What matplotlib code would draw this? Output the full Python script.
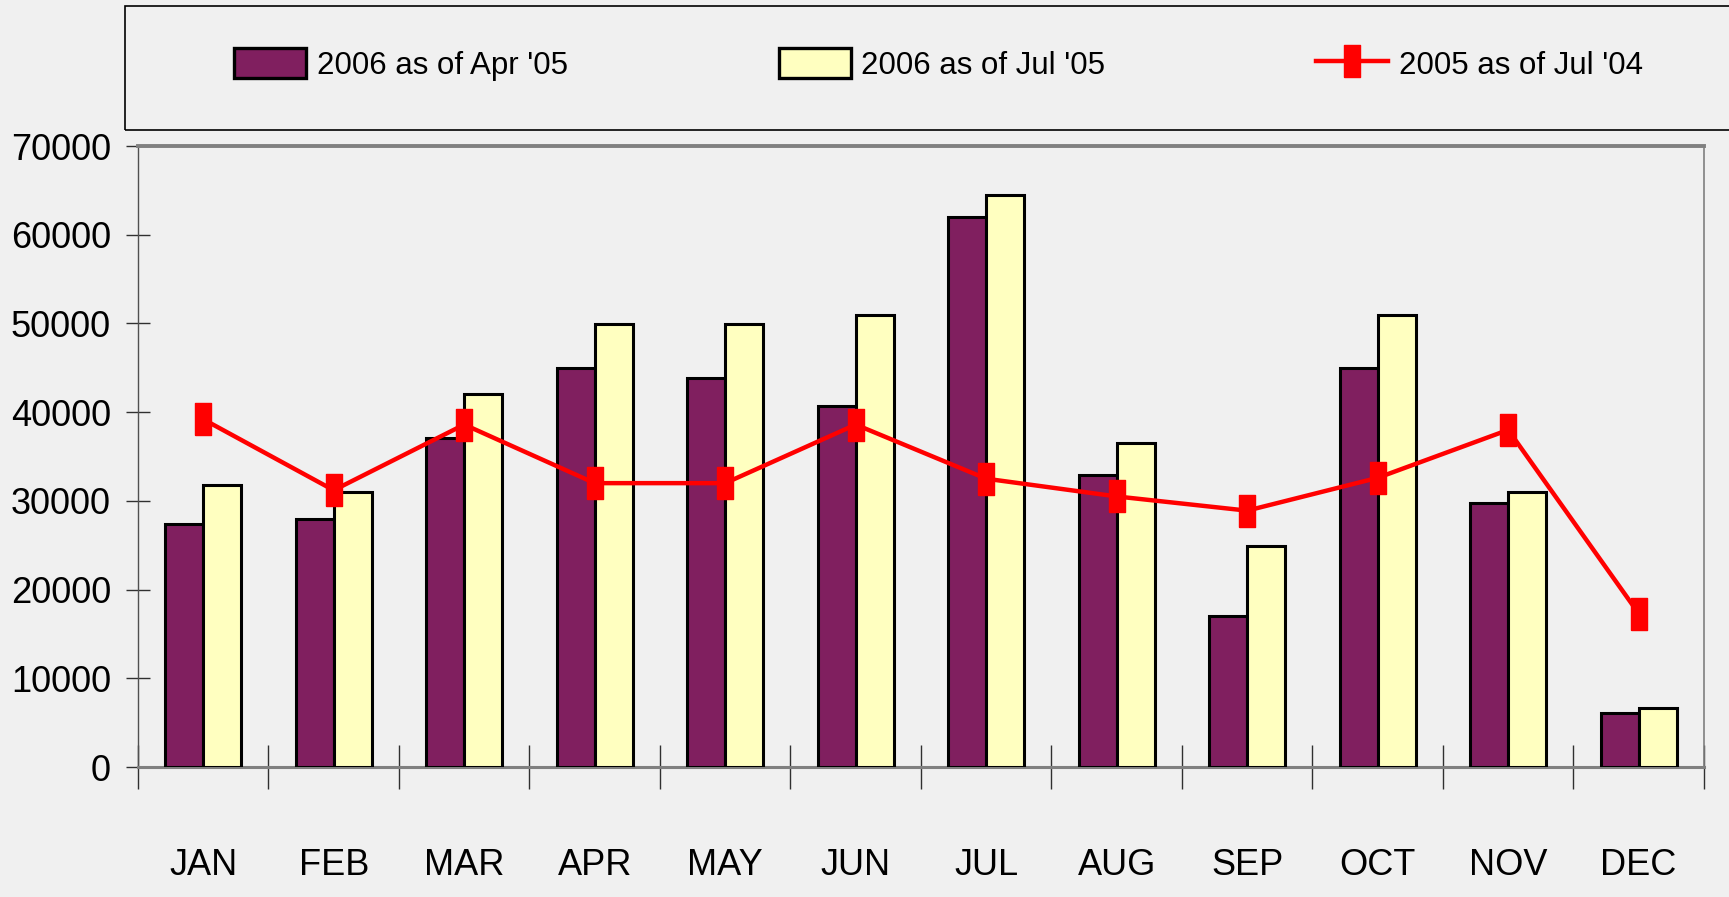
import matplotlib.pyplot as plt
from matplotlib.patches import Patch, Rectangle
from matplotlib.lines import Line2D
import numpy as np

# values
months = ["JAN", "FEB", "MAR", "APR", "MAY", "JUN",
          "JUL", "AUG", "SEP", "OCT", "NOV", "DEC"]
apr_05 = [27400, 28000, 37100, 45000, 43800, 40700,
          62000, 32900, 17000, 45000, 29800, 6100]
jul_05 = [31800, 31000, 42100, 49900, 49900, 51000,
          64500, 36500, 24900, 51000, 31000, 6700]
jul_04 = [39200, 31200, 38600, 32000, 32000, 38600,
          32500, 30500, 28900, 32600, 38000, 17300]
yticks = [0, 10000, 20000, 30000, 40000, 50000, 60000, 70000]

series_names = ["2006 as of Apr '05", "2006 as of Jul '05", "2005 as of Jul '04"]
purple = "#801F5F"
cream = "#FFFFC0"
red = "#FF0000"
bg = "#F0F0F0"

plt.rcParams['font.family'] = ['Liberation Sans', 'DejaVu Sans']

fig = plt.figure(figsize=(17.29, 8.97), dpi=100, facecolor=bg)
ax = fig.add_axes([0.0798, 0.1449, 0.9057, 0.6923], facecolor=bg)

x = np.arange(len(months))
w = 0.29
ax.bar(x - w / 2, apr_05, w, color=purple, edgecolor="black", linewidth=2.2, zorder=3)
ax.bar(x + w / 2, jul_05, w, color=cream, edgecolor="black", linewidth=2.2, zorder=3)

# tall thin rectangle marker like the Excel one
rect_marker = [(-0.53, -1), (0.53, -1), (0.53, 1), (-0.53, 1), (-0.53, -1)]
ax.plot(x, jul_04, color=red, linewidth=3.2, marker=rect_marker,
        markersize=23, markerfacecolor=red, markeredgecolor=red, zorder=4)

ax.set_xlim(-0.5, len(months) - 0.5)
ax.set_ylim(0, 70000)
ax.set_yticks(yticks)
ax.set_yticklabels([str(v) for v in yticks])

# month names centred, tick marks on the category boundaries
ax.set_xticks(x)
ax.set_xticklabels(months)
ax.set_xticks(np.arange(-0.5, len(months), 1), minor=True)
ax.tick_params(axis="x", which="major", length=0, pad=58, labelsize=26)
ax.tick_params(axis="x", which="minor", direction="inout", length=32, width=1, color="#303030")
ax.tick_params(axis="y", direction="inout", length=17, width=1, color="#303030",
               pad=11, labelsize=26)

ax.spines["left"].set_color("#505050")
ax.spines["left"].set_linewidth(1)
ax.spines["top"].set_color("#808080")
ax.spines["top"].set_linewidth(2.8)
ax.spines["right"].set_color("#808080")
ax.spines["right"].set_linewidth(1.2)
ax.spines["bottom"].set_color("#808080")
ax.spines["bottom"].set_linewidth(2.2)

# legend box runs off the right side of the picture
fig.add_artist(Rectangle((0.0723, 0.855), 1.0, 0.1383, transform=fig.transFigure,
                         fill=False, edgecolor="black", linewidth=1.2))
handles = [
    Patch(facecolor=purple, edgecolor="black", linewidth=2.4),
    Patch(facecolor=cream, edgecolor="black", linewidth=2.4),
    Line2D([], [], color=red, linewidth=3.2, marker=rect_marker, markersize=23,
           markerfacecolor=red, markeredgecolor=red),
]
fig.legend(handles, series_names, loc="center left", bbox_to_anchor=(0.1353, 0.928),
           ncol=3, frameon=False, fontsize=22.5, borderpad=0, borderaxespad=0,
           handlelength=2.3, handleheight=1.1, handletextpad=0.35, columnspacing=6.75)

fig.savefig("out.png", dpi=100, facecolor=bg)
